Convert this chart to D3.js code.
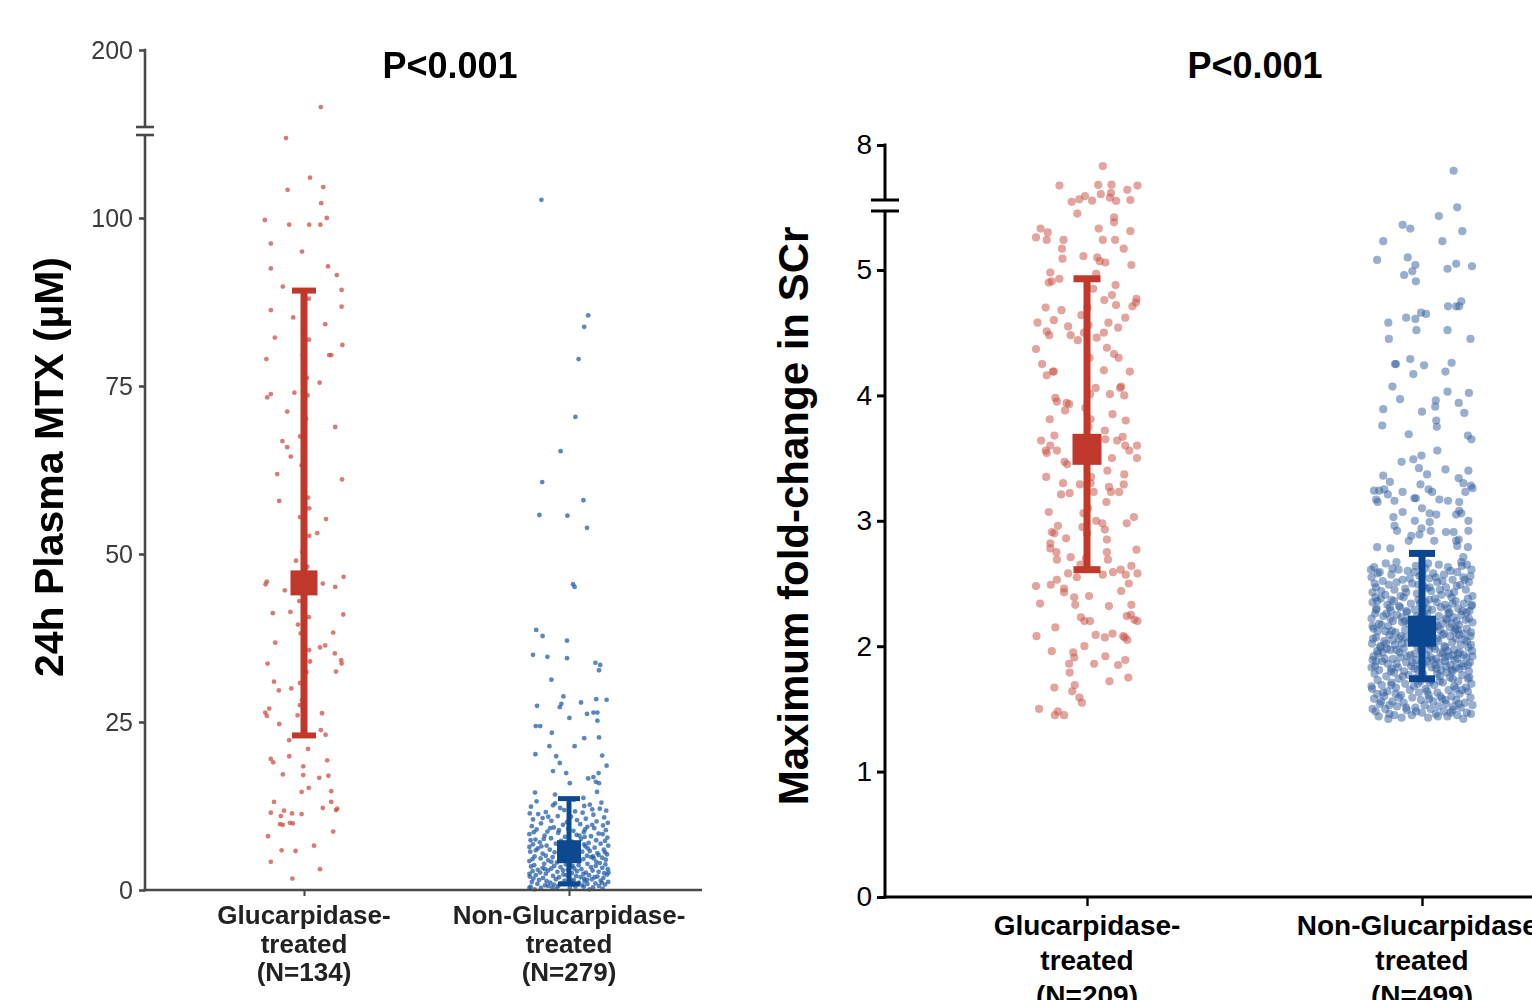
<!DOCTYPE html>
<html>
<head>
<meta charset="utf-8">
<script src="https://cdn.jsdelivr.net/npm/d3@7"></script>
<style>
  html, body { margin: 0; padding: 0; background: #fff; overflow: hidden; }
  svg text { font-family: "Liberation Sans", Arial, sans-serif; }
</style>
</head>
<body>
<svg id="chart" width="1532" height="1000"></svg>
<script>
// ---------------- data ----------------
const groups = ["Glucarpidase-treated", "Non-Glucarpidase-treated"];
const labelsMTX = [["Glucarpidase-", "treated", "(N=134)"], ["Non-Glucarpidase-", "treated", "(N=279)"]];
const labelsSCr = [["Glucarpidase-", "treated", "(N=209)"], ["Non-Glucarpidase-", "treated", "(N=499)"]];
const titleMTX = "P<0.001";
const titleSCr = "P<0.001";
const yTitleMTX = "24h Plasma MTX (\u00b5M)";
const yTitleSCr = "Maximum fold-change in SCr";
const ticksMTX = [0, 25, 50, 75, 100];
const ticksMTXTop = [200];
const ticksSCr = [0, 1, 2, 3, 4, 5];
const ticksSCrTop = [8];

// group summaries: centre marker and whisker ends
const meanMTX = [45.7, 5.7];
const lowMTX = [23.0, 0.9];
const highMTX = [89.2, 13.6];
const meanSCr = [3.57, 2.12];
const lowSCr = [2.61, 1.74];
const highSCr = [4.93, 2.74];

// individual patients: [value, lane offset from -1 to 1]
const mtxGluc = [
[137,.42],[111.9,-.45],[106.0,.15],[104.2,-.41],[104.6,.48],[102.2,.43],[99.7,-.98],[99.0,-.37],[99.0,.13],[99.0,.41],
[100.0,.57],[96.2,-.83],[92.5,-.83],[92.8,.6],[91.5,.82],[89.8,-.53],[89.3,.94],[86.3,-.83],[86.8,.94],[85.2,-.27],
[84.2,.53],[82.2,-.73],[81.9,.12],[79.0,-.94],[79.6,.63],[79.6,.68],[81.1,.96],[79.6,-.03],[75.5,.39],[73.3,-.92],
[73.8,-.83],[74.0,-.24],[73.6,.09],[71.2,-.42],[66.8,-.54],[65.9,-.42],[64.5,-.33],[61.9,-.67],[61.1,.95],[56.8,.13],
[55.2,.55],[52.7,.13],[53.1,.33],[45.5,-.96],[45.9,-.93],[44.6,-.48],[45.6,.47],[45.1,.78],[46.6,.99],[41.2,-.78],
[41.4,-.34],[40.6,.12],[41.0,.98],[38.2,-.08],[38.3,.73],[36.8,-.72],[35.7,.13],[36.1,.4],[36.4,.53],[35.2,.77],
[34.2,.93],[33.7,.94],[33.7,-.91],[32.5,.8],[31.0,-.75],[29.7,-.63],[30.0,-.32],[30.8,-.1],[27.5,-.1],[26.0,-.16],
[26.4,-.97],[27.0,-.87],[25.9,-.93],[24.7,-.62],[26.3,.45],[23.8,.42],[23.1,.54],[22.3,-.37],[19.5,-.83],[19.0,-.77],
[19.9,-.37],[19.3,.58],[18.4,-.02],[17.1,-.02],[17.2,-.53],[16.7,.38],[17.0,.61],[14.6,-.06],[14.7,.68],[13.1,-.75],
[13.1,.68],[11.5,-.83],[11.8,-.5],[11.0,-.58],[11.4,-.3],[11.3,-.06],[12.2,.47],[11.9,.8],[12.1,.83],[9.8,-.6],
[9.7,-.53],[10.0,-.35],[9.9,-.28],[8.7,.73],[5.9,-.56],[5.8,-.21],[6.6,.25],[4.2,-.83],[1.7,-.29],
[70.1,.05],[63.2,-.06],[58.4,.1],[50.3,-.04],[48.1,.08],[43.0,-.12],[32.4,.06],[28.3,-.05],[21.0,.1],[60.2,.02],
[67.5,-.1],[76.2,.07],[83.0,-.02],[88.0,.12],[49.0,-.2],[47.0,.2],[39.5,-.15],[34.0,.15],[95.0,-.05],[15.2,.12],
[55.5,-.1],[8.0,-.9],[3.1,.4],[57.9,-.62],[68.9,.78]
];

const mtxNon = [
[102.7,-.69],[85.5,.48],[83.8,.38],[79.0,.24],[70.4,.16],[65.3,-.21],[60.7,-.67],[58.0,.36],[55.8,-.74],[55.7,-.04],
[53.9,.45],[45.5,.1],[45.1,.14],
[38.7,-.82],[37.8,-.66],[37.1,-.05],[35.0,-.9],[34.7,-.54],[34.5,-.05],[33.8,.66],[33.5,.78],[32.7,.75],[31.3,-.44],
[28.8,-.14],[27.7,-.19],[27.2,-.23],[27.9,.3],[28.4,.68],[28.3,.94],[27.4,-.8],[26.2,.45],[26.4,.61],[26.4,.71],
[25.6,.01],[25.2,.71],[24.4,-.83],[24.4,-.72],[23.4,-.43],[22.6,.38],[22.7,.75],[21.4,-.49],[21.4,.14],[20.2,-.84],
[19.9,-.32],[18.9,-.23],[20.0,.83],[18.5,.94],[17.7,-.4],[17.4,-.07],[17.4,.74],[16.6,.48],[16.8,.61],[16.1,.67],
[15.9,.75],[15.9,.02],[14.5,-.85],[14.2,-.35],[14.6,.7],[13.7,.36],[12.6,-.4],[9.0,.4],
[13.2,-.81],[12.9,-.35],[12.7,.52],[13.4,.12],[12.4,-.95],[12.1,.77],[11.9,-.12],[11.8,.93],[11.6,-.58],[11.5,.34],
[11.3,-.77],[11.2,.61],[11.0,-.28],[10.9,.05],[10.8,.88],[10.7,-.66],[10.6,.42],[10.5,-.9],[10.4,.2],[10.3,-.44],
[10.2,.69],[10.1,-.05],[10.0,.97],[12.5,.38],[12.2,-.22],[11.4,-.98],[11.7,.15],[13.0,.81],[10.9,-.52],[12.0,.58],
[9.9,-.7],[9.8,.28],[9.7,-.15],[9.6,.85],[9.5,-.93],[9.4,.46],[9.3,-.38],[9.2,.63],[9.1,-.02],[9.0,-.81],
[8.9,.92],[8.8,.11],[8.7,-.54],[8.6,.37],[8.5,-.27],[8.4,.74],[8.3,-.99],[8.2,.19],[8.1,-.61],[8.0,.55],
[7.9,-.1],[7.8,.96],[7.7,-.45],[7.6,.3],[7.5,-.84],[7.4,.68],[7.3,-.2],[7.2,.07],[7.1,-.73],[7.0,.49],
[9.7,.58],[9.2,-.47],[8.6,-.88],[8.3,.84],[7.9,.39],[7.6,-.63],[7.3,.9],[8.9,-.25],[8.1,.26],[7.4,-.96],
[6.9,-.33],[6.9,.79],[6.8,-.9],[6.7,.15],[6.6,-.56],[6.6,.98],[6.5,.41],[6.4,-.17],[6.3,.64],[6.2,-.78],
[6.1,.23],[6.0,-.48],[6.0,.87],[5.9,-.05],[5.8,.52],[5.7,-.97],[5.7,.33],[5.6,-.36],[5.5,.71],[5.4,-.66],
[5.3,.09],[5.3,.95],[5.2,-.24],[5.1,.45],[5.0,-.86],[5.0,.6],[4.9,-.41],[4.8,.18],[4.8,.83],[4.7,-.71],
[4.6,.36],[4.5,-.14],[4.5,.92],[4.4,-.52],[4.3,.27],[4.3,-.99],[4.2,.68],[4.1,-.3],[4.1,.03],[4.0,.77],
[6.5,-.69],[6.2,.47],[5.9,-.83],[5.6,.9],[5.4,.22],[5.1,-.58],[4.9,.55],[4.6,-.91],[4.4,.11],[4.2,-.44],
[6.8,.38],[6.4,-.99],[5.8,-.2],[5.2,.74],[4.7,.62],
[3.9,-.62],[3.9,.46],[3.8,-.08],[3.8,.91],[3.7,-.87],[3.7,.24],[3.6,-.37],[3.6,.67],[3.5,.04],[3.5,-.95],
[3.4,.55],[3.4,-.21],[3.3,.83],[3.3,-.66],[3.2,.13],[3.2,-.44],[3.1,.97],[3.1,.31],[3.0,-.78],[3.0,-.03],
[2.9,.59],[2.9,-.52],[2.8,.2],[2.8,-.91],[2.7,.74],[2.7,-.29],[2.6,.42],[2.6,-.72],[2.5,.07],[2.5,.88],
[2.4,-.58],[2.4,.36],[2.3,-.14],[2.3,.95],[2.2,-.83],[2.2,.5],[2.1,-.4],[2.1,.18],[2.0,-.98],[2.0,.71],
[1.9,-.25],[1.9,.29],[1.8,-.65],[1.8,.86],[1.7,.01],[1.7,-.89],[1.6,.57],[1.6,-.33],[1.5,.12],[1.5,-.75],
[1.4,.79],[1.4,-.11],[1.3,.39],[1.3,-.56],[1.2,.98],[1.2,-.93],[1.1,.25],[1.1,-.47],[1.0,.66],[1.0,-.18],
[0.9,.46],[0.9,-.79],[0.8,.09],[0.8,.9],[0.7,-.6],[0.7,.33],[0.6,-.27],[0.6,.75],[0.5,-.96],[0.5,.16],
[0.4,-.42],[0.4,.6],[0.3,-.7],[0.3,.02],[0.2,.84],[0.2,-.31],[0.1,.51],[0.1,-.86],[3.6,.09],[3.1,-.6],
[2.6,.99],[2.2,-.06],[1.9,.64],[1.5,.45],[1.1,.82],[0.8,-.38],[0.5,.37],[0.3,-.99],[2.9,-.15],[2.4,-.99],
[1.7,.38],[1.3,.07],[0.6,-.52]
];

const scrGluc = [
[7.09,.31],[6.25,-.54],[6.28,.22],[6.29,.48],[6.07,.79],[6.25,.99],[5.88,.27],[5.94,.47],[5.73,.45],[5.59,.57],
[5.63,.85],[5.66,-.15],[5.80,-.04],[5.60,.10],
[5.45,-.19],[5.42,.53],[5.38,.53],[5.33,-.91],[5.30,-.77],[5.26,-1],[5.24,-.79],[5.33,.23],[5.24,-.46],[5.24,.31],
[5.24,.55],[5.31,.85],[5.17,-.49],[5.17,.72],[5.09,-.48],[5.11,-.07],[5.10,.2],[5.07,.25],[5.06,.36],[5.04,.87],
[4.98,-.72],[4.90,-.75],[4.91,-.69],[4.93,-.54],[4.97,.18],[4.88,.56],[4.80,.49],[4.76,.34],[4.72,.57],[4.77,.97],
[4.74,.96],[4.71,.89],[4.70,-.81],[4.68,-.5],[4.64,-.11],[4.56,.03],[4.58,-.97],[4.60,-.65],[4.58,.42],[4.54,.61],
[4.50,.33],[4.55,-.37],[4.51,-.79],[4.48,-.74],[4.48,-.32],[4.44,-.18],[4.46,.19],[4.37,-1],[4.38,.39],[4.33,.53],
[4.30,.62],[4.16,-.79],[4.19,-.67],[4.19,-.65],[4.20,.33],[4.19,.84],[4.06,.17],[4.06,.65],[4.07,.67],[4.00,.73],
[4.01,.45],[4.01,.06],[3.98,-.62],[3.95,-.59],[3.94,-.4],[3.93,-.35],[3.88,-.43],[3.81,-.73],[3.81,.07],[3.80,.76],
[3.72,.35],[3.68,-.64],[3.64,-.9],[3.60,-.72],[3.56,-.81],[3.54,-.79],[3.56,-.59],[3.65,.36],[3.64,.59],[3.67,.7],
[3.60,.75],[3.56,.83],[3.60,.98],[3.50,.98],[3.50,.49],[3.47,-.44],[3.45,-.39],[3.40,.4],[3.37,.73],[3.30,-.47],
[3.29,-.14],[3.30,.07],[3.23,.13],[3.22,-.34],[3.21,-.51],[3.27,.43],[3.23,.47],[3.23,.63],[3.29,.72],[3.15,.38],
[3.07,-.75],[3.06,-.07],[3.03,.92],[2.98,.78],[3.00,.18],[2.96,-.57],[2.91,-.69],[2.90,-.64],[2.95,-.09],[2.93,.35],
[2.85,.39],[2.86,-.41],[2.82,-.72],[2.78,-.72],[2.75,-.6],[2.69,-.59],[2.77,.97],[2.75,.39],[2.69,.41],[2.71,-.32],
[2.65,-.13],[2.64,.87],[2.61,.66],[2.57,.76],[2.58,.99],[2.59,.51],[2.57,.31],[2.58,-.37],[2.48,-1],[2.49,-.71],
[2.53,-.59],[2.46,-.45],[2.43,-.45],[2.50,.82],[2.44,.67],[2.39,-.25],[2.33,-.23],[2.34,-.92],[2.32,.43],[2.33,.87],
[2.23,-.12],[2.20,-.05],[2.24,.78],[2.25,.86],[2.21,.93],[2.20,.99],[2.08,-.99],[2.09,.17],[2.07,.35],[2.10,.5],
[2.08,.71],[2.07,.74],[2.05,.79],[2.00,-.05],[1.96,-.69],[1.95,-.27],[1.91,-.25],[1.86,-.35],[1.79,-.34],[1.86,.14],
[1.92,.36],[1.85,.61],[1.89,.75],[1.75,.81],[1.67,-.64],[1.69,-.24],[1.64,-.29],[1.59,-.15],[1.50,-.94],[1.48,-.57],
[1.45,-.63],[1.45,-.45],
[3.10,.02],[3.90,-.03],[4.30,.05],[2.90,.0],[2.40,.04],[3.50,-.05],[4.70,.01],[3.35,.08],[2.70,-.02],[2.20,.06],
[4.50,-.06],[3.75,.03],[5.55,-.3],[4.85,.12],[4.25,-.88],[3.85,.5],[3.35,-.8],[2.98,.3],[2.55,-.2],[2.15,-.62],
[1.72,.44],[1.55,-.1],[4.62,.75]
];

const scrNon = [
[6.89,.62],[5.50,.69],[5.43,.33],[5.36,-.38],[5.33,-.23],[5.31,.79],[5.23,-.76],[5.23,.4],[5.08,-.88],[5.10,-.28],
[5.04,-.13],[4.96,-.35],[4.99,-.19],[4.91,-.12],[5.01,.5],[5.05,.67],[5.03,.98],[4.71,.51],[4.71,.67],[4.71,.73],
[4.75,.77],[4.58,-.66],[4.62,-.31],[4.61,-.13],[4.66,-.02],[4.65,.08],[4.52,-.11],[4.52,.5],[4.45,-.65],[4.45,.95],
[4.25,-.53],[4.25,-.51],[4.29,-.23],[4.24,.04],[4.26,.58],[4.17,-.17],[4.19,.46],[4.07,-.58],[3.97,-.43],[3.96,.27],
[3.91,.26],[4.03,.5],[4.02,.92],[3.89,-.76],[3.87,0],[3.94,.72],[3.86,.83],[3.76,-.78],[3.80,.28],[3.75,.29],
[3.69,-.26],[3.68,.9],[3.65,.97],[3.56,.3],
[3.52,-.01],[3.49,-.17],[3.47,-.4],[3.42,-.06],[3.41,.46],[3.40,.91],[3.36,-.76],[3.37,.1],[3.34,.72],[3.31,-.63],
[3.30,.81],[3.28,.96],[3.26,.99],[3.23,.85],[3.29,-.03],[3.24,-.94],[3.24,-.84],[3.25,-.74],[3.23,-.38],[3.25,.13],
[3.23,.2],[3.18,-.15],[3.18,-.12],[3.21,-.67],[3.17,-.9],[3.15,-.87],[3.16,-.54],[3.17,.34],[3.16,.51],[3.15,.73],
[3.10,0],[3.07,-.38],[3.06,.15],[3.05,.28],[3.08,.73],[3.05,.67],[3.06,.77],[3.00,.91],[3.03,-.56],[3.00,-.14],
[2.96,-.54],[2.92,-.49],[2.94,-.01],[2.99,.15],[2.92,.17],[2.88,-.21],[2.84,-.26],[2.89,-.05],[2.91,.47],[2.91,.62],
[2.85,.72],[2.84,.67],[2.92,.91],[2.84,.24],[2.79,-.88],[2.78,-.62],[2.80,.69],[2.79,.9],[2.71,.81],[2.67,.77],
[2.67,-.5],
[2.66,-.71],[2.65,.33],[2.65,.88],[2.64,-.12],[2.63,-.94],[2.63,.51],[2.62,.07],[2.61,-.46],[2.61,.97],[2.60,-.28],
[2.59,.69],[2.59,-.83],[2.58,.22],[2.57,-.6],[2.57,.43],[2.56,-.05],[2.55,.81],[2.55,-.99],[2.54,.14],[2.53,-.38],
[2.53,.6],[2.52,-.77],[2.51,.3],[2.51,.92],[2.50,-.19],[2.49,-.65],[2.49,.75],[2.48,.03],[2.47,-.9],[2.47,.47],
[2.46,-.33],[2.45,.86],[2.45,-.54],[2.44,.18],[2.43,-.97],[2.43,.63],[2.42,-.1],[2.41,.38],[2.41,-.72],[2.40,.99],
[2.40,-.42],[2.66,.12],[2.62,-.58],[2.60,.56],[2.58,-.87],[2.56,.95],[2.54,-.24],[2.52,.4],[2.50,-.93],[2.48,.68],
[2.46,.09],[2.44,-.8],[2.42,.53],[2.64,.78],[2.59,-.15],[2.55,.27],[2.51,-.5],[2.47,.15],[2.43,-.31],[2.61,-1],
[2.57,.01],[2.53,.84],[2.49,-.07],[2.45,.35],
[2.39,.58],[2.39,-.36],[2.38,.9],[2.38,-.81],[2.37,.14],[2.37,-.07],[2.36,.66],[2.36,-.55],[2.35,.29],[2.35,-.97],
[2.34,.82],[2.34,-.22],[2.33,.45],[2.33,-.68],[2.32,.02],[2.32,.97],[2.31,-.43],[2.31,.37],[2.30,-.89],[2.30,.71],
[2.29,-.14],[2.29,.2],[2.28,-.61],[2.28,.93],[2.27,-.3],[2.27,.54],[2.26,-.92],[2.26,.1],[2.25,.77],[2.25,-.49],
[2.24,.33],[2.24,-.76],[2.23,.62],[2.23,-.03],[2.22,-.99],[2.22,.47],[2.21,-.25],[2.21,.86],[2.20,-.57],[2.20,.16],
[2.19,.99],[2.19,-.39],[2.18,.41],[2.18,-.84],[2.17,.07],[2.17,.73],[2.16,-.18],[2.16,-.66],[2.15,.55],[2.15,.24],
[2.14,-.95],[2.14,.88],[2.13,-.33],[2.13,.35],[2.12,-.72],[2.12,.64],[2.11,0],[2.11,-.52],[2.10,.8],[2.10,-.2],
[2.38,.25],[2.36,-.88],[2.34,.6],[2.32,-.45],[2.30,.11],[2.28,.79],[2.26,-.7],[2.24,-.1],[2.22,.92],[2.20,-.34],
[2.18,.58],[2.16,-.97],[2.14,.19],[2.12,-.59],[2.10,.43],[2.37,-.6],[2.33,.98],[2.29,-.9],[2.25,.04],[2.21,.49],
[2.17,-.8],[2.13,.7],[2.35,.07],[2.31,-.63],[2.27,.87],[2.23,-.4],[2.19,.27],[2.15,-.08],[2.11,.96],[2.39,-.91],
[2.26,.52],[2.18,-.26],[2.34,-.04],[2.22,-.62],[2.14,.66],[2.30,.5],[2.20,.68],[2.12,-.87],[2.28,-.3],[2.16,.31],
[2.09,-.64],[2.09,.4],[2.08,.95],[2.08,-.17],[2.07,-.9],[2.07,.21],[2.06,.67],[2.06,-.45],[2.05,.03],[2.05,.83],
[2.04,-.74],[2.04,.32],[2.03,-.28],[2.03,.59],[2.02,-.98],[2.02,.12],[2.01,.76],[2.01,-.53],[2.00,.44],[2.00,-.09],
[1.99,.91],[1.99,-.81],[1.98,.25],[1.98,-.36],[1.97,.63],[1.97,-.62],[1.96,-.01],[1.96,.98],[1.95,-.44],[1.95,.36],
[1.94,-.86],[1.94,.71],[1.93,.08],[1.93,-.23],[1.92,.52],[1.92,-.95],[1.91,.17],[1.91,.87],[1.90,-.57],[1.90,.28],
[1.89,-.12],[1.89,.64],[1.88,-.78],[1.88,.45],[1.87,-.31],[1.87,.94],[1.86,.05],[1.86,-.67],[1.85,.56],[1.85,-.04],
[1.84,.81],[1.84,-.92],[1.83,.19],[1.83,-.47],[1.82,.73],[1.82,-.15],[1.81,.37],[1.81,-.84],[1.80,.6],[1.80,-.35],
[2.08,.55],[2.06,-.96],[2.04,.88],[2.02,-.39],[2.00,.23],[1.98,-.69],[1.96,.5],[1.94,-.14],[1.92,.99],[1.90,-.73],
[1.88,.1],[1.86,.78],[1.84,-.21],[1.82,-.6],[1.80,.92],[2.07,-.32],[2.03,.09],[1.99,.46],[1.95,-.77],[1.91,-.42],
[1.87,.33],[1.83,.67],[2.05,-.58],[2.01,.96],[1.97,.14],[1.93,.82],[1.89,-.97],[1.85,.26],[1.81,-.08],[2.09,.73],
[1.98,-.02],[1.94,.41],[1.90,.69],[1.86,-.5],[1.82,.28],[2.06,.29],[2.02,-.71],[1.96,-.88],[1.92,-.29],[1.88,-.9],
[1.84,.47],[1.80,-.61],[2.04,-.06],[2.00,-.82],[1.93,.6],[1.87,-.19],[1.83,-.99],[2.08,-.41],[1.95,.74],[1.89,.2],
[1.85,.9],[2.01,.15],[1.97,-.5],[1.91,.45],[1.81,.58],
[1.79,-.55],[1.79,.48],[1.78,.02],[1.78,-.93],[1.77,.79],[1.77,-.26],[1.76,.35],[1.76,-.7],[1.75,.93],[1.75,-.11],
[1.74,.6],[1.74,-.46],[1.73,.18],[1.73,-.87],[1.72,.71],[1.72,-.03],[1.71,-.6],[1.71,.41],[1.70,.97],[1.70,-.33],
[1.69,.24],[1.69,-.79],[1.68,.63],[1.68,-.16],[1.67,.86],[1.67,-.51],[1.66,.07],[1.66,-.98],[1.65,.52],[1.65,-.24],
[1.64,.9],[1.64,-.68],[1.63,.3],[1.63,-.06],[1.62,.74],[1.62,-.88],[1.61,.13],[1.61,-.41],[1.60,.58],[1.60,-.74],
[1.59,.95],[1.59,-.19],[1.58,.39],[1.58,-.94],[1.57,-.02],[1.57,.67],[1.56,-.58],[1.56,.22],[1.55,.84],[1.55,-.36],
[1.54,.47],[1.54,-.83],[1.53,.05],[1.53,.99],[1.52,-.49],[1.52,.32],[1.51,-.13],[1.51,.76],[1.50,-.72],[1.50,.17],
[1.49,.6],[1.49,-.3],[1.48,-.91],[1.48,.43],[1.47,0],[1.47,.88],[1.46,-.64],[1.46,.27],[1.45,-.2],[1.45,.69],
[1.44,-.85],[1.44,.5],[1.43,-.4],[1.43,.12],[1.42,.81],[1.42,-.66],[1.78,.3],[1.74,.9],[1.70,-.08],[1.66,.66],
[1.62,-.52],[1.58,.14],[1.54,.72],[1.50,-.97],[1.46,.96],[1.76,-.38],[1.72,.35],[1.68,-.99],[1.64,.1],[1.60,.36],
[1.56,-.8],[1.52,.62],[1.48,-.12],[1.44,.31],[1.75,.55],[1.69,-.6],[1.63,-.76],[1.57,.46],[1.51,-.31],[1.45,-.54],
[1.71,.15],[1.65,.78],[1.59,-.45],[1.53,-.64],[1.47,.56]
];

// ---------------- drawing ----------------
const svg = d3.select("#chart");

// a small softening filter for the left panel
svg.append("defs").append("filter").attr("id", "soft")
  .append("feGaussianBlur").attr("stdDeviation", 0.45);

function drawPanel(cfg) {
  const g = svg.append("g");
  if (cfg.filter) g.attr("filter", cfg.filter);

  const x = d3.scalePoint().domain(groups).range(cfg.centers);
  const yLo = d3.scaleLinear().domain(cfg.loDomain).range(cfg.loRange);
  const yHi = d3.scaleLinear().domain(cfg.hiDomain).range(cfg.hiRange);
  const y = v => (v > cfg.split ? yHi(v) : yLo(v));
  const lane = d3.scaleLinear().domain([-1, 1]).range([-cfg.lane, cfg.lane]);

  // individual observations
  cfg.series.forEach((pts, i) => {
    g.append("g").selectAll("circle").data(pts).join("circle")
      .attr("cx", d => x(groups[i]) + lane(d[1]))
      .attr("cy", d => y(d[0]))
      .attr("r", cfg.r)
      .attr("fill", cfg.pointColors[i])
      .attr("fill-opacity", cfg.pointOpacity);
  });

  // whiskers and centre squares
  groups.forEach((grp, i) => {
    const cx = x(grp);
    const col = cfg.markColors[i];
    const mg = g.append("g");
    mg.append("line").attr("x1", cx).attr("x2", cx)
      .attr("y1", y(cfg.low[i])).attr("y2", y(cfg.high[i]))
      .attr("stroke", col).attr("stroke-width", cfg.barW[i]);
    [cfg.low[i], cfg.high[i]].forEach(v => {
      mg.append("line").attr("x1", cx - cfg.capW[i] / 2).attr("x2", cx + cfg.capW[i] / 2)
        .attr("y1", y(v)).attr("y2", y(v))
        .attr("stroke", col).attr("stroke-width", cfg.capH[i]);
    });
    mg.append("rect")
      .attr("x", cx - cfg.sqW[i] / 2).attr("y", y(cfg.mean[i]) - cfg.sqH[i] / 2)
      .attr("width", cfg.sqW[i]).attr("height", cfg.sqH[i])
      .attr("fill", col);
  });

  // y axis: lower and upper segments with a break between them
  const styleAxis = sel => {
    sel.select(".domain").remove();
    sel.selectAll(".tick line").attr("stroke", cfg.axisColor).attr("stroke-width", cfg.axisW);
    sel.selectAll(".tick text")
      .attr("fill", cfg.tickColor)
      .style("font-size", cfg.tickFont + "px")
      .style("font-family", '"Liberation Sans", Arial, sans-serif');
  };
  const fmt = d3.format("d");
  g.append("g").attr("transform", `translate(${cfg.axisX},0)`)
    .call(d3.axisLeft(yLo).tickValues(cfg.ticks).tickFormat(fmt).tickSize(cfg.tickSize).tickPadding(cfg.tickPad))
    .call(styleAxis);
  g.append("g").attr("transform", `translate(${cfg.axisX},0)`)
    .call(d3.axisLeft(yHi).tickValues(cfg.ticksTop).tickFormat(fmt).tickSize(cfg.tickSize).tickPadding(cfg.tickPad))
    .call(styleAxis);

  const axisLine = (x1, y1, x2, y2, w) => g.append("line")
    .attr("x1", x1).attr("y1", y1).attr("x2", x2).attr("y2", y2)
    .attr("stroke", cfg.axisColor).attr("stroke-width", w || cfg.axisW);
  axisLine(cfg.axisX, yLo(cfg.loDomain[0]) + cfg.axisW / 2, cfg.axisX, cfg.loAxisTop);
  axisLine(cfg.axisX, yHi(cfg.hiDomain[1]) - cfg.axisW / 2, cfg.axisX, cfg.hiAxisBottom);
  axisLine(cfg.axisX - cfg.breakW / 2, cfg.hiAxisBottom, cfg.axisX + cfg.breakW / 2, cfg.hiAxisBottom);
  axisLine(cfg.axisX - cfg.breakW / 2, cfg.loAxisTop, cfg.axisX + cfg.breakW / 2, cfg.loAxisTop);

  // x axis
  const baseY = yLo(cfg.loDomain[0]);
  axisLine(cfg.axisX - cfg.axisW / 2, baseY, cfg.xEnd, baseY);
  const gx = g.append("g").attr("transform", `translate(0,${baseY})`)
    .call(d3.axisBottom(x).tickSize(cfg.xTickSize).tickFormat(""));
  gx.select(".domain").remove();
  gx.selectAll(".tick line").attr("stroke", cfg.axisColor).attr("stroke-width", cfg.axisW * 0.8);

  // category labels
  groups.forEach((grp, i) => {
    const t = g.append("text")
      .attr("x", x(grp)).attr("y", cfg.xLabelY)
      .attr("text-anchor", "middle")
      .attr("fill", cfg.labelColor)
      .style("font-size", cfg.xLabelFont + "px").style("font-weight", "bold");
    cfg.labels[i].forEach((line, k) => {
      t.append("tspan").attr("x", x(grp)).attr("dy", k === 0 ? 0 : cfg.xLabelStep).text(line);
    });
  });

  // y title
  g.append("text")
    .attr("transform", `translate(${cfg.yTitleX},${cfg.yTitleY}) rotate(-90)`)
    .attr("text-anchor", "middle")
    .attr("fill", "#000")
    .style("font-size", cfg.yTitleFont + "px").style("font-weight", "bold")
    .text(cfg.yTitle);

  // p-value heading
  g.append("text")
    .attr("x", cfg.titleX).attr("y", cfg.titleY)
    .attr("text-anchor", "middle").attr("fill", "#000")
    .style("font-size", cfg.titleFont + "px").style("font-weight", "bold")
    .text(cfg.title);
}

// left panel: 24 h plasma methotrexate
drawPanel({
  filter: "url(#soft)",
  centers: [304, 569],
  loDomain: [0, 100], loRange: [890, 218],
  hiDomain: [115, 200], hiRange: [127, 50],
  split: 112,
  loAxisTop: 135, hiAxisBottom: 127, breakW: 18,
  lane: 40, r: 2.4,
  series: [mtxGluc, mtxNon],
  pointColors: ["#cc4a3c", "#1f5aa5"], pointOpacity: 0.72,
  markColors: ["#c0392b", "#0e4a91"],
  mean: meanMTX, low: lowMTX, high: highMTX,
  barW: [7, 5], capW: [24, 22], capH: [6, 5], sqW: [27, 24], sqH: [25, 23],
  axisX: 145, xEnd: 702, axisColor: "#4a4a4a", axisW: 2.6,
  ticks: ticksMTX, ticksTop: ticksMTXTop, tickSize: 6, tickPad: 6,
  tickColor: "#3a3a3a", tickFont: 25, xTickSize: 6,
  labels: labelsMTX, labelColor: "#222", xLabelFont: 26, xLabelY: 924, xLabelStep: 28.5,
  yTitle: yTitleMTX, yTitleX: 63, yTitleY: 467, yTitleFont: 41,
  title: titleMTX, titleX: 450, titleY: 78, titleFont: 36
});

// right panel: maximum fold-change in serum creatinine
drawPanel({
  filter: null,
  centers: [1087, 1422],
  loDomain: [0, 5], loRange: [897, 270],
  hiDomain: [5.5, 8], hiRange: [203, 145],
  split: 5.5,
  loAxisTop: 211, hiAxisBottom: 200, breakW: 28,
  lane: 51, r: 4.1,
  series: [scrGluc, scrNon],
  pointColors: ["#c94a3e", "#2f5e9e"], pointOpacity: 0.5,
  markColors: ["#c0392b", "#0b4690"],
  mean: meanSCr, low: lowSCr, high: highSCr,
  barW: [7, 7], capW: [27, 26], capH: [7, 7], sqW: [29, 28], sqH: [31, 31],
  axisX: 885, xEnd: 1540, axisColor: "#000", axisW: 3,
  ticks: ticksSCr, ticksTop: ticksSCrTop, tickSize: 8, tickPad: 5,
  tickColor: "#000", tickFont: 28, xTickSize: 9,
  labels: labelsSCr, labelColor: "#000", xLabelFont: 28, xLabelY: 935, xLabelStep: 35,
  yTitle: yTitleSCr, yTitleX: 808, yTitleY: 516, yTitleFont: 42,
  title: titleSCr, titleX: 1255, titleY: 78, titleFont: 36
});
</script>
</body>
</html>
